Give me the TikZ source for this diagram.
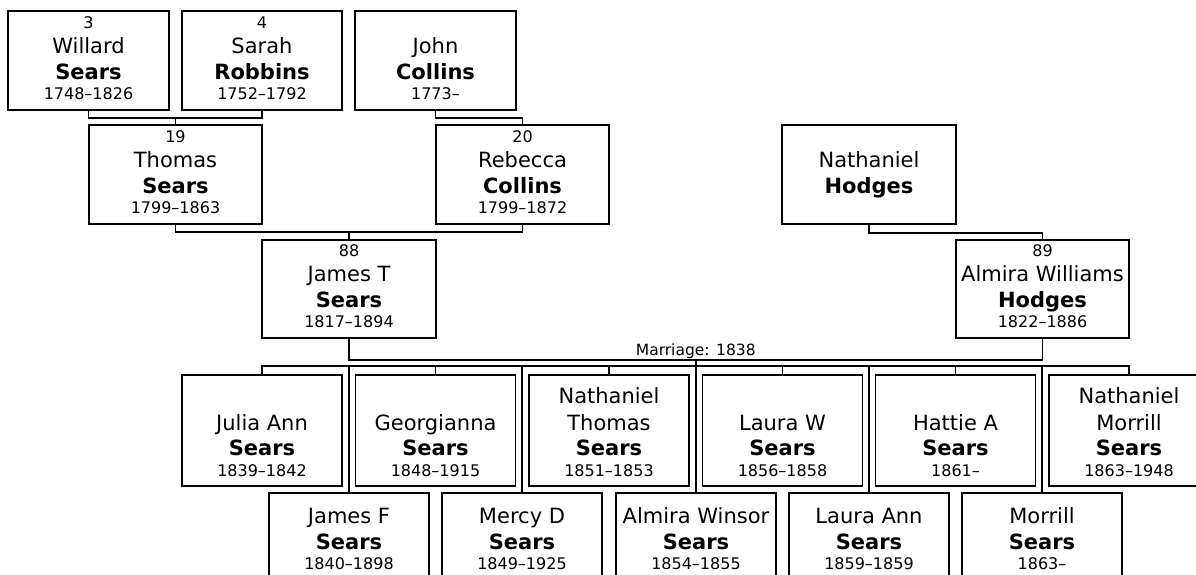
\documentclass[tikz,border=0pt]{standalone}
\usepackage{fontspec}
\setmainfont{DejaVu Sans}
\usetikzlibrary{calc}
\newcommand\smallf{\fontsize{16}{19}\selectfont}
\newcommand\bigf{\fontsize{21}{25}\selectfont}
\newcommand\marf{\fontsize{15.5}{18}\selectfont}
\newcommand\tline[3]{\hbox to 0pt{\hss\vrule height #1pt depth #2pt width 0pt\relax\smash{#3}\hss}}
% ancestor box: number, given name, surname, dates
\newcommand\anc[4]{\vbox{\offinterlineskip
  \tline{13}{5}{\smallf #1}\tline{20}{6}{\bigf #2}%
  \tline{20}{4}{\bigf\bfseries #3}\tline{16}{7}{\smallf #4}}}
% child box (upper row): given name line 1, line 2, surname, dates
\newcommand\kid[4]{\vbox{\offinterlineskip
  \tline{20}{7}{\bigf #1}\tline{20}{5}{\bigf #2}%
  \tline{20}{5}{\bigf\bfseries #3}\tline{16}{2}{\smallf #4}}}
% child box (lower row): given name, surname, dates
\newcommand\kidlow[3]{\vbox{\offinterlineskip
  \tline{20}{6}{\bigf #1}\tline{20}{4}{\bigf\bfseries #2}%
  \tline{16}{25}{\smallf #3}}}
\tikzset{
  person/.style={draw=black, line width=1.7pt, inner sep=0pt, fill=white,
    minimum height=99pt},
  kidbox/.style={person, minimum width=160pt, minimum height=111pt},
  link/.style={draw=black, line width=1.7pt},
}
\begin{document}
\begin{tikzpicture}[x=1pt, y=-1pt]
\path[use as bounding box, clip] (0,0) rectangle (1196,574);
\fill[white] (0,0) rectangle (1196,574);
% generation 1
\node[person, minimum width=161pt] (w) at (88.5,60.5) {\anc{3}{Willard}{Sears}{1748–1826}};
\node[person, minimum width=160pt] (s) at (262,60.5) {\anc{4}{Sarah}{Robbins}{1752–1792}};
\node[person, minimum width=161pt] (j) at (435.5,60.5) {\anc{}{John}{Collins}{1773–}};
% generation 2
\node[person, minimum width=173pt] (t) at (175.5,174.5) {\anc{19}{Thomas}{Sears}{1799–1863}};
\node[person, minimum width=173pt] (r) at (522.5,174.5) {\anc{20}{Rebecca}{Collins}{1799–1872}};
\node[person, minimum width=174pt] (nh) at (869,174.5) {\anc{}{Nathaniel}{Hodges}{}};
% generation 3
\node[person, minimum width=174pt, minimum height=98pt] (jt) at (349,289) {\anc{88}{James T}{Sears}{1817–1894}};
\node[person, minimum width=173pt, minimum height=98pt] (a) at (1042.5,289) {\anc{89}{Almira Williams}{Hodges}{1822–1886}};
% children, upper row
\node[kidbox] (c1) at (262,430.5) {\kid{}{Julia Ann}{Sears}{1839–1842}};
\node[kidbox] (c2) at (435.5,430.5) {\kid{}{Georgianna}{Sears}{1848–1915}};
\node[kidbox] (c3) at (609,430.5) {\kid{Nathaniel}{Thomas}{Sears}{1851–1853}};
\node[kidbox] (c4) at (782.5,430.5) {\kid{}{Laura W}{Sears}{1856–1858}};
\node[kidbox] (c5) at (955.5,430.5) {\kid{}{Hattie A}{Sears}{1861–}};
\node[kidbox] (c6) at (1129,430.5) {\kid{Nathaniel}{Morrill}{Sears}{1863–1948}};
% children, lower row
\node[kidbox] (b1) at (349,548.5) {\kidlow{James F}{Sears}{1840–1898}};
\node[kidbox] (b2) at (522,548.5) {\kidlow{Mercy D}{Sears}{1849–1925}};
\node[kidbox] (b3) at (696,548.5) {\kidlow{Almira Winsor}{Sears}{1854–1855}};
\node[kidbox] (b4) at (869,548.5) {\kidlow{Laura Ann}{Sears}{1859–1859}};
\node[kidbox] (b5) at (1042,548.5) {\kidlow{Morrill}{Sears}{1863–}};
% connectors: generation 1 -> 2
\draw[link] (w.south) -- ++(0,7) coordinate (ws) -| (s.south);
\draw[link] (t.north) -- (t.north |- ws);
\draw[link] (j.south) -- ++(0,7) -| (r.north);
% generation 2 -> 3
\draw[link] (t.south) -- ++(0,7) coordinate (tr) -| (r.south);
\draw[link] (jt.north) -- (jt.north |- tr);
\draw[link] (nh.south) -- ++(0,8) -| (a.north);
% marriage
\draw[link] (jt.south) -- ++(0,21) coordinate (ja) -| (a.south);
\coordinate (m) at ($(jt.south)!0.5!(a.south)+(0,21)$);
\node[anchor=base, inner sep=0pt, font=\marf] (ml) at ($(m)+(0,-4)$) {Marriage: 1838};
% children bar
\draw[link] (c1.north) -- ++(0,-8) coordinate (cl) -| (c6.north);
\draw[link] (c2.north) -- (c2.north |- cl);
\draw[link] (c3.north) -- (c3.north |- cl);
\draw[link] (c4.north) -- (c4.north |- cl);
\draw[link] (c5.north) -- (c5.north |- cl);
\draw[link] (b1.north) -- (b1.north |- cl);
\draw[link] (b2.north) -- (b2.north |- cl);
\draw[link] (b3.north) -- (b3.north |- m);
\draw[link] (b4.north) -- (b4.north |- cl);
\draw[link] (b5.north) -- (b5.north |- cl);
\end{tikzpicture}
\end{document}
